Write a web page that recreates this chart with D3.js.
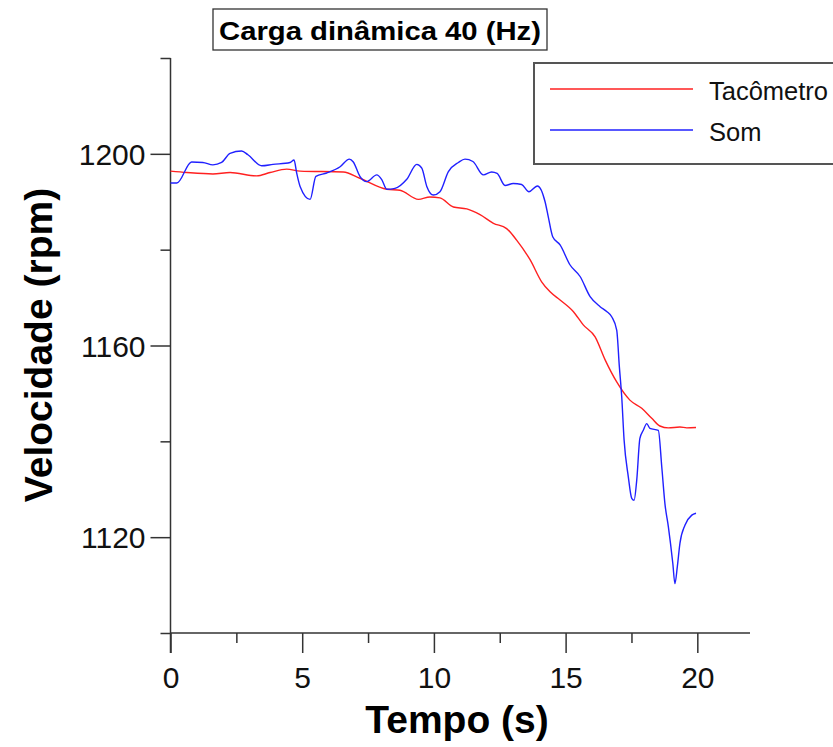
<!DOCTYPE html>
<html>
<head>
<meta charset="utf-8">
<script src="https://cdn.jsdelivr.net/npm/d3@7"></script>
<style>
  html, body { margin: 0; padding: 0; background: #fff; }
  svg { display: block; font-family: "Liberation Sans", Arial, sans-serif; }
</style>
</head>
<body>
<svg id="chart" width="833" height="747"></svg>
<script>
// Tempo (s) e velocidade (rpm) de cada medição
const tacometroTempo = [0, 0.62, 1.61, 2.26, 3.27, 3.78, 4.41, 4.92, 6.56, 7.19, 8.21, 8.71, 9.41, 9.85, 10.23, 10.74, 11.25, 11.75, 12.26, 12.76, 13.14, 13.65, 14.09, 14.41, 14.79, 15.29, 15.67, 16.12, 16.50, 16.94, 17.44, 17.89, 18.27, 18.58, 18.90, 19.34, 19.60, 19.95];
const tacometroVel = [1196.4, 1196.1, 1195.8, 1196.1, 1195.4, 1196.1, 1196.8, 1196.4, 1196.2, 1194.9, 1192.6, 1192.4, 1190.5, 1191.0, 1190.8, 1188.9, 1188.5, 1187.3, 1185.5, 1184.4, 1182.0, 1177.9, 1173.3, 1171.2, 1169.5, 1167.1, 1164.3, 1161.8, 1157.0, 1152.4, 1148.6, 1146.9, 1144.8, 1143.2, 1142.8, 1143.0, 1142.8, 1142.9];

const somTempo = [0, 0.24, 0.80, 1.23, 1.61, 1.94, 2.26, 2.70, 2.94, 3.46, 3.89, 4.54, 4.69, 4.79, 4.92, 5.30, 5.52, 5.93, 6.44, 6.79, 6.94, 7.19, 7.45, 7.83, 8.02, 8.21, 8.52, 8.97, 9.35, 9.54, 9.73, 9.98, 10.23, 10.55, 10.93, 11.18, 11.48, 11.88, 12.19, 12.40, 12.70, 13.01, 13.33, 13.61, 13.93, 14.22, 14.34, 14.51, 14.79, 15.17, 15.55, 15.93, 16.31, 16.56, 16.75, 16.94, 17.04, 17.13, 17.22, 17.38, 17.51, 17.60, 17.70, 17.82, 17.95, 18.08, 18.20, 18.52, 18.65, 18.77, 18.90, 19.07, 19.15, 19.24, 19.34, 19.53, 19.79, 19.95];
const somVel = [1193.9, 1193.9, 1198.3, 1198.2, 1197.7, 1198.2, 1200.1, 1200.6, 1199.8, 1197.5, 1197.8, 1198.2, 1198.7, 1196.0, 1193.2, 1190.5, 1195.3, 1196.0, 1197.3, 1198.9, 1198.3, 1195.3, 1194.2, 1195.6, 1194.6, 1192.6, 1192.8, 1194.7, 1197.8, 1197.0, 1193.2, 1191.4, 1192.1, 1196.3, 1198.2, 1198.9, 1198.4, 1195.6, 1196.2, 1195.9, 1193.4, 1193.8, 1193.6, 1192.1, 1193.3, 1190.0, 1186.9, 1182.7, 1181.0, 1176.8, 1174.4, 1170.2, 1168.1, 1167.1, 1166.0, 1163.2, 1155.6, 1149.3, 1140.3, 1132.6, 1128.1, 1127.7, 1131.9, 1140.6, 1142.3, 1143.7, 1142.7, 1142.3, 1134.7, 1127.0, 1122.2, 1114.5, 1110.3, 1113.8, 1118.7, 1122.5, 1124.6, 1125.0];

const xTicksMajor = [0, 5, 10, 15, 20];
const xTicksMinor = [2.5, 7.5, 12.5, 17.5];
const yTicksMajor = [1120, 1160, 1200];
const yTicksMinor = [1100, 1140, 1180, 1220];

const titulo = "Carga dinâmica 40 (Hz)";
const tituloX = "Tempo (s)";
const tituloY = "Velocidade (rpm)";
const serieNomes = ["Tacômetro", "Som"];
const serieCores = ["#ff2020", "#2020ff"];

const svg = d3.select("#chart");
const x = d3.scaleLinear().domain([0, 22]).range([170.5, 750]);
const y = d3.scaleLinear().domain([1100, 1220]).range([633, 58]);
const axisColor = "#333";

// Eixo X: traços principais com rótulos e traços secundários
const gx = svg.append("g").attr("transform", `translate(0,${y(1100)})`);
gx.call(d3.axisBottom(x).tickValues(xTicksMajor).tickSize(20).tickPadding(14).tickFormat(d3.format("d")));
const gxm = svg.append("g").attr("transform", `translate(0,${y(1100)})`);
gxm.call(d3.axisBottom(x).tickValues(xTicksMinor).tickSize(10).tickFormat(""));
gxm.select(".domain").remove();

// Eixo Y
const gy = svg.append("g").attr("transform", `translate(${x(0)},0)`);
gy.call(d3.axisLeft(y).tickValues(yTicksMajor).tickSize(20).tickPadding(5).tickFormat(d3.format("d")));
const gym = svg.append("g").attr("transform", `translate(${x(0)},0)`);
gym.call(d3.axisLeft(y).tickValues(yTicksMinor).tickSize(10).tickFormat(""));
gym.select(".domain").remove();

gy.select(".domain").attr("d", `M0,${y(1220)}V${y(1100) + 20}`);
gx.select(".domain").attr("d", `M${x(0)},0H${x(22)}`);

svg.selectAll(".domain, .tick line").attr("stroke", axisColor).attr("stroke-width", 1.5);
svg.selectAll(".tick text").attr("fill", "#111").attr("font-size", 30)
  .attr("font-family", "'Liberation Sans', Arial, sans-serif");
gy.selectAll(".tick text").attr("dy", "0.36em");

// Séries (suavizadas)
const line = d3.line().curve(d3.curveMonotoneX).x(d => x(d[0])).y(d => y(d[1]));
const tacometro = tacometroTempo.map((t, i) => [t, tacometroVel[i]]);
const som = somTempo.map((t, i) => [t, somVel[i]]);

svg.append("path").datum(tacometro).attr("d", line)
  .attr("fill", "none").attr("stroke", serieCores[0]).attr("stroke-width", 1.4);
svg.append("path").datum(som).attr("d", line)
  .attr("fill", "none").attr("stroke", serieCores[1]).attr("stroke-width", 1.4);

// Título em caixa
svg.append("rect").attr("x", 213).attr("y", 9).attr("width", 334).attr("height", 41)
  .attr("fill", "#fff").attr("stroke", "#333").attr("stroke-width", 1.3);
svg.append("text").attr("x", 380).attr("y", 39.5).attr("text-anchor", "middle")
  .attr("font-size", 26.5).attr("font-weight", "bold").attr("fill", "#000")
  .attr("textLength", 322).attr("lengthAdjust", "spacingAndGlyphs")
  .text(titulo);

// Legenda
svg.append("rect").attr("x", 534).attr("y", 63).attr("width", 320).attr("height", 101)
  .attr("fill", "#fff").attr("stroke", "#555").attr("stroke-width", 2);
const legY = [89, 130];
serieNomes.forEach((nome, i) => {
  svg.append("line").attr("x1", 550).attr("x2", 693).attr("y1", legY[i]).attr("y2", legY[i])
    .attr("stroke", serieCores[i]).attr("stroke-width", 1.4);
  svg.append("text").attr("x", 709).attr("y", legY[i] + 10.5)
    .attr("font-size", 25.5).attr("fill", "#111").text(nome);
});

// Títulos dos eixos
svg.append("text").attr("x", 457).attr("y", 733).attr("text-anchor", "middle")
  .attr("font-size", 39).attr("font-weight", "bold").attr("fill", "#000").text(tituloX);
svg.append("text").attr("transform", "translate(52,345) rotate(-90)").attr("text-anchor", "middle")
  .attr("font-size", 39).attr("font-weight", "bold").attr("fill", "#000").text(tituloY);
</script>
</body>
</html>
